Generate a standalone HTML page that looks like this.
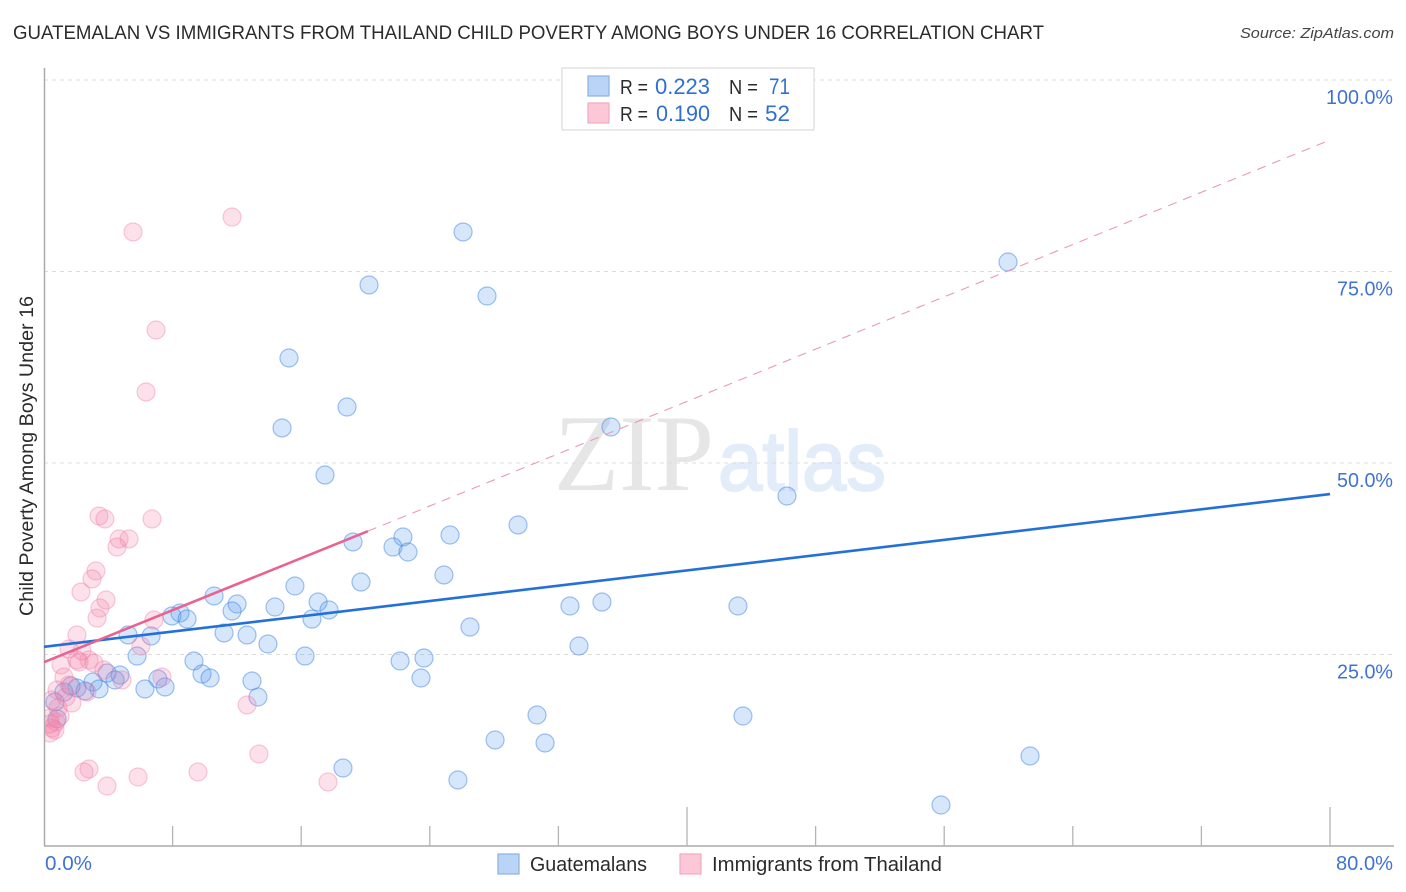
<!DOCTYPE html>
<html>
<head>
<meta charset="utf-8">
<title>Guatemalan vs Immigrants from Thailand Child Poverty Correlation Chart</title>
<style>
html,body{margin:0;padding:0;background:#fff;width:1406px;height:892px;overflow:hidden}
svg{display:block;font-family:"Liberation Sans",sans-serif}
</style>
</head>
<body>
<svg id="chart" width="1406" height="892" viewBox="0 0 1406 892" xmlns="http://www.w3.org/2000/svg">
  <defs>
    <clipPath id="plot-clip"><rect x="45" y="60" width="1350" height="786"/></clipPath>
  </defs>
  <text x="13" y="39" font-size="19" fill="#2b2b2b" textLength="1031" lengthAdjust="spacingAndGlyphs">GUATEMALAN VS IMMIGRANTS FROM THAILAND CHILD POVERTY AMONG BOYS UNDER 16 CORRELATION CHART</text>
  <text x="1394" y="38" font-size="15" font-style="italic" fill="#444" text-anchor="end" textLength="154" lengthAdjust="spacingAndGlyphs">Source: ZipAtlas.com</text>

  <g>
    <text x="554" y="490" font-family="'Liberation Serif',serif" font-size="109" fill="#e6e6e6" textLength="160" lengthAdjust="spacingAndGlyphs">ZIP</text>
    <text x="718" y="490" font-size="84" fill="#e3edf9" stroke="#e3edf9" stroke-width="2" textLength="168" lengthAdjust="spacingAndGlyphs">atlas</text>
  </g>

  <g id="grid"></g>
  <g id="axes"></g>
  <g id="blue-points" clip-path="url(#plot-clip)"></g>
  <g id="pink-points" clip-path="url(#plot-clip)"></g>
  <g id="lines"></g>
  <g id="labels"></g>

  <text transform="translate(33,456) rotate(-90)" font-size="19" fill="#2b2b2b" text-anchor="middle" textLength="320" lengthAdjust="spacingAndGlyphs">Child Poverty Among Boys Under 16</text>

  <g>
    <rect x="562" y="68" width="252" height="62" fill="#fff" stroke="#e2e2e2" stroke-width="1.5"/>
    <rect x="588" y="76" width="21" height="20" fill="#b9d4f6" stroke="#8ab2e4" stroke-width="1.2"/>
    <rect x="588" y="103" width="21" height="20" fill="#fcc8d8" stroke="#f3a9c0" stroke-width="1.2"/>
    <text x="620" y="94" font-size="20" fill="#2b2b2b" textLength="28" lengthAdjust="spacingAndGlyphs">R =</text>
    <text x="655" y="94" font-size="22" fill="#2f6fd0" textLength="55" lengthAdjust="spacingAndGlyphs">0.223</text>
    <text x="729" y="94" font-size="20" fill="#2b2b2b" textLength="29" lengthAdjust="spacingAndGlyphs">N =</text>
    <text x="769" y="94" font-size="22" fill="#2f6fd0" textLength="21" lengthAdjust="spacingAndGlyphs">71</text>
    <text x="620" y="121" font-size="20" fill="#2b2b2b" textLength="28" lengthAdjust="spacingAndGlyphs">R =</text>
    <text x="656" y="121" font-size="22" fill="#2f6fd0" textLength="54" lengthAdjust="spacingAndGlyphs">0.190</text>
    <text x="729" y="121" font-size="20" fill="#2b2b2b" textLength="29" lengthAdjust="spacingAndGlyphs">N =</text>
    <text x="765" y="121" font-size="22" fill="#2f6fd0" textLength="25" lengthAdjust="spacingAndGlyphs">52</text>
  </g>

  <g>
    <rect x="498" y="854" width="21" height="20" fill="#b9d4f6" stroke="#8ab2e4" stroke-width="1.2"/>
    <text x="530" y="871" font-size="20" fill="#2b2b2b" textLength="117" lengthAdjust="spacingAndGlyphs">Guatemalans</text>
    <rect x="680" y="854" width="21" height="20" fill="#fcc8d8" stroke="#f3a9c0" stroke-width="1.2"/>
    <text x="712" y="871" font-size="20" fill="#2b2b2b" textLength="230" lengthAdjust="spacingAndGlyphs">Immigrants from Thailand</text>
  </g>
</svg>

<script>
const blueX = [26.07,59.97,20.22,27.56,15.24,18.85,14.81,35.27,17.48,46.22,29.49,25.26,22.33,21.71,19.22,22.64,24.88,19.72,15.61,10.58,17.05,12.01,14.37,11.70,17.73,8.46,7.96,8.90,16.67,32.72,34.71,43.17,26.50,11.20,12.63,5.23,6.66,13.93,33.28,5.79,16.24,22.15,23.64,9.33,9.83,10.33,3.92,4.73,4.42,3.05,7.09,7.53,6.28,12.94,23.45,13.31,3.42,2.05,2.55,1.24,1.68,0.68,30.67,43.48,28.06,31.17,18.60,61.34,25.75,55.80,0.81];
const blueY = [80.16,76.24,73.24,71.80,63.71,57.31,54.57,54.70,48.43,45.69,41.91,40.60,40.34,39.03,39.69,38.38,35.38,34.46,33.94,32.64,31.85,31.59,31.20,30.68,30.81,30.42,30.03,29.63,29.63,31.33,31.85,31.33,28.59,27.81,27.55,27.55,27.42,26.37,26.11,24.80,24.80,24.15,24.54,24.15,22.45,21.93,22.58,22.32,21.67,21.41,21.80,20.76,20.50,21.54,21.93,19.45,20.50,20.63,20.24,20.10,20.89,18.80,17.10,16.97,13.84,13.45,10.18,11.75,8.62,5.35,16.60];
const pinkX = [11.70,5.54,6.97,6.35,3.42,3.79,6.72,4.67,5.29,4.54,3.23,2.99,2.30,3.86,3.48,3.30,6.84,2.05,6.03,1.56,2.36,2.80,2.05,2.18,3.11,1.06,3.73,1.24,7.34,4.85,1.56,0.81,2.67,1.74,12.63,0.50,1.00,0.37,0.75,0.50,0.68,0.37,13.37,2.80,2.49,5.85,9.58,3.92,17.67,0.87,1.37,0.37];
const pinkY = [82.11,80.16,67.36,59.27,43.08,42.69,42.69,40.08,40.08,39.03,35.90,34.86,33.16,32.11,31.07,29.76,29.50,27.55,26.11,25.72,25.46,24.28,24.28,24.02,23.89,23.63,22.98,22.06,22.06,21.67,21.02,20.37,20.10,18.67,18.41,19.06,16.97,16.71,16.19,15.40,15.14,14.75,12.01,10.05,9.66,9.01,9.66,7.83,8.36,18.02,19.45,15.93];
const xTickValues = [0,8,16,24,32,40,48,56,64,72,80];
const yTickValues = [25,50,75,100];
const yTickLabels = ["25.0%","50.0%","75.0%","100.0%"];
const xEndLabels = ["0.0%","80.0%"];
const blueTrend = [26.0,45.95];
const pinkTrendSolid = [24.0,41.1];
const pinkTrendDashedEnd = 92.17;
const trendDomain = [0,80];
const pinkSolidEndX = 20.15;

const NS = "http://www.w3.org/2000/svg";
function sx(v){ return 44 + v * (1330 - 44) / 80; }
function sy(v){ return 846 - v * (846 - 80) / 100; }
function mk(tag, attrs, parent){
  const el = document.createElementNS(NS, tag);
  for (const k in attrs) el.setAttribute(k, attrs[k]);
  parent.appendChild(el);
  return el;
}

const grid = document.getElementById('grid');
yTickValues.forEach(function(v){
  const g = mk('line',{x1:44,x2:1394,y1:sy(v),y2:sy(v),stroke:'#dcdcdc','stroke-width':1,'stroke-dasharray':'4 4'},grid);
  
  
});

const axes = document.getElementById('axes');
const yAxis = mk('line',{x1:44.5,x2:44.5,y1:68,y2:846,stroke:'#aaaaaa','stroke-width':1.5},axes);


const xAxis = mk('line',{x1:44,x2:1394,y1:846,y2:846,stroke:'#aaaaaa','stroke-width':1.5},axes);


xTickValues.forEach(function(v){
  if (v === 0) return;
  const major = v % 40 === 0;
  const t = mk('line',{x1:sx(v),x2:sx(v),y1:major?807:826,y2:846,stroke:'#b4b4b4','stroke-width':1.3},axes);
  
  
});

function drawPoints(id, xs, ys, fill, stroke, name){
  const group = document.getElementById(id);
  xs.forEach(function(x,i){
    const c = mk('circle',{cx:sx(x),cy:sy(ys[i]),r:9,fill:fill,stroke:stroke,'stroke-width':1.2},group);
    
    
  });
}
drawPoints('blue-points', blueX, blueY, 'rgba(90,155,240,0.25)', 'rgba(60,130,225,0.48)', 'guatemalans-point');
drawPoints('pink-points', pinkX, pinkY, 'rgba(245,130,170,0.25)', 'rgba(238,120,160,0.38)', 'thailand-point');

const lines = document.getElementById('lines');
const dashed = mk('line',{x1:sx(pinkSolidEndX),y1:sy(pinkTrendSolid[1]),x2:sx(trendDomain[1]),y2:sy(pinkTrendDashedEnd),stroke:'#e89ab4','stroke-width':1.1,'stroke-dasharray':'9 7'},lines);


const blueLine = mk('line',{x1:sx(trendDomain[0]),y1:sy(blueTrend[0]),x2:sx(trendDomain[1]),y2:sy(blueTrend[1]),stroke:'#2270d8','stroke-width':2.6},lines);


const pinkLine = mk('line',{x1:sx(trendDomain[0]),y1:sy(pinkTrendSolid[0]),x2:sx(pinkSolidEndX),y2:sy(pinkTrendSolid[1]),stroke:'#e8638f','stroke-width':2.6},lines);



const labels = document.getElementById('labels');
yTickValues.forEach(function(v,i){
  const t = mk('text',{x:1393,y:sy(v)+24,'font-size':20,fill:'#3f73d3','text-anchor':'end',textLength:yTickLabels[i].length===6?67:56,lengthAdjust:'spacingAndGlyphs'},labels);
  t.textContent = yTickLabels[i];
  
  
});
const x0 = mk('text',{x:45,y:870,'font-size':20,fill:'#3f73d3',textLength:47,lengthAdjust:'spacingAndGlyphs'},labels);
x0.textContent = xEndLabels[0];


const x1 = mk('text',{x:1393,y:870,'font-size':20,fill:'#3f73d3','text-anchor':'end',textLength:57,lengthAdjust:'spacingAndGlyphs'},labels);
x1.textContent = xEndLabels[1];


</script>
</body>
</html>
